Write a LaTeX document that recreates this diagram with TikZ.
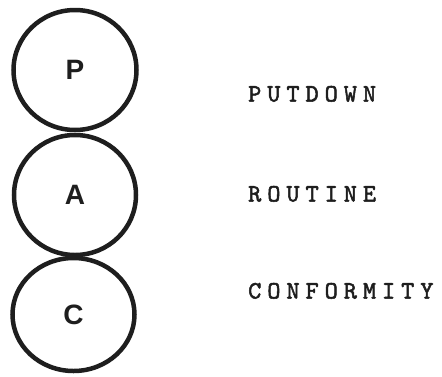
\documentclass[tikz,border=0pt]{standalone}
\usepackage{fontspec}
\usetikzlibrary{shapes.geometric}
\setmainfont{Liberation Sans}
\newfontfamily\typew{lmmono10-regular}[Extension=.otf, LetterSpace=24, FakeBold=2]
\definecolor{ink}{HTML}{1E1E1E}
\tikzset{
  ring/.style={ellipse, draw=ink, line width=4.5pt, inner sep=0pt, font=\fontsize{28}{28}\selectfont\bfseries, text=ink},
  label/.style={anchor=base west, inner sep=0pt, font=\typew\fontsize{25}{25}\selectfont, text=ink}
}
\begin{document}
\begin{tikzpicture}[x=1pt,y=-1pt]
\useasboundingbox (0,0) rectangle (442,376);
\node[ring, minimum width=123pt, minimum height=120pt] (p) at (75,70) {P};
\node[ring, minimum width=122pt, minimum height=120pt] (a) at (75,195) {A};
\node[ring, minimum width=122pt, minimum height=113pt] (c) at (73.5,314.5) {C};
\node[label] (l1) at (248,101.5) {PUTDOWN};
\node[label] (l2) at (248,201.5) {ROUTINE};
\node[label] (l3) at (248,298.5) {CONFORMITY};
\end{tikzpicture}
\end{document}
